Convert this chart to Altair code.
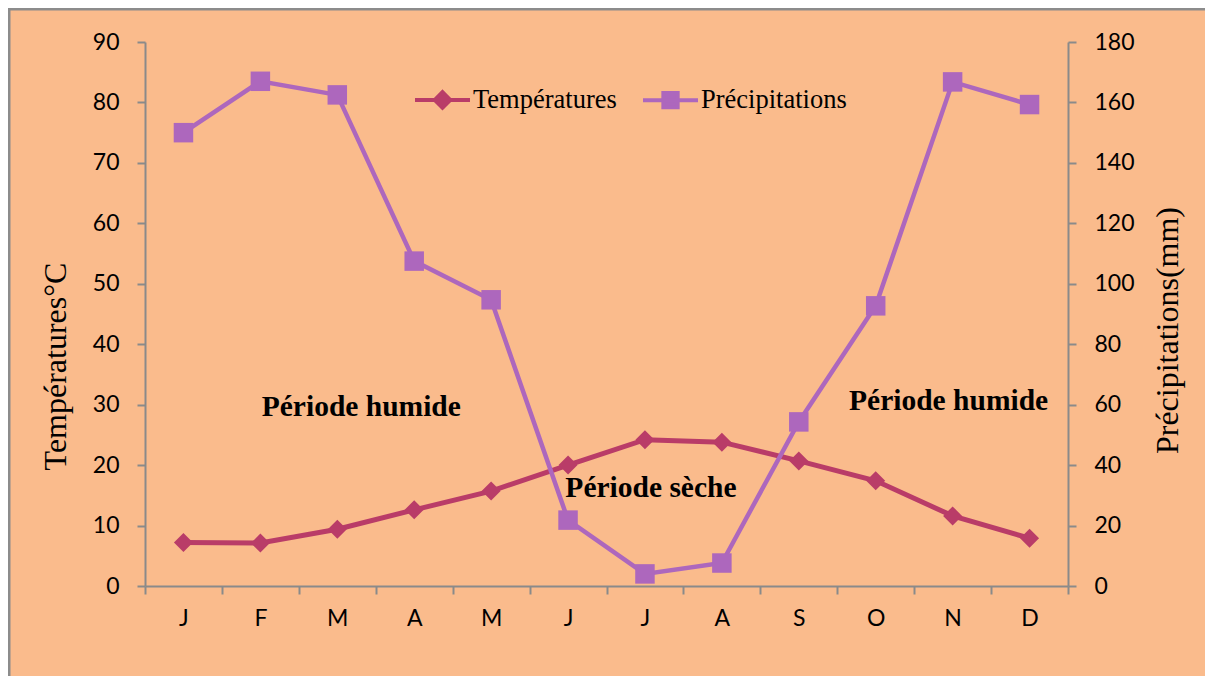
import altair as alt
import pandas as pd

months = ["J", "F", "M", "A", "M", "J", "J", "A", "S", "O", "N", "D"]
temperatures = [7.2, 7.1, 9.4, 12.6, 15.7, 20.0, 24.2, 23.8, 20.7, 17.4, 11.6, 7.9]
precipitations = [150.0, 167.0, 162.5, 107.5, 94.7, 21.8, 4.0, 7.6, 54.3, 92.7, 166.8, 159.3]
series_names = ["Températures", "Précipitations"]
temp_ticks = list(range(0, 91, 10))
precip_ticks = list(range(0, 181, 20))
annotation_labels = ["Période humide", "Période sèche", "Période humide"]
annotation_months = [2, 6, 10]
annotation_temps = [29.6, 16.2, 30.6]

temp_color = "#B93C68"
precip_color = "#AD67BD"
bg = "#FABB8C"
gray = "#8A8A8A"

W, H = 923, 544
PL, PT, PR, PB = 137, 34, 137, 90

df = pd.DataFrame({"idx": list(range(len(months))), "temp": temperatures, "precip": precipitations})
ann_df = pd.DataFrame({"idx": annotation_months, "temp": annotation_temps, "label": annotation_labels})
legend_df = pd.DataFrame({"series": series_names})
one = pd.DataFrame({"k": [0]})

label_expr = "[" + ",".join("'%s'" % m for m in months) + "][datum.value]"

x_enc = alt.X(
    "idx:O",
    scale=alt.Scale(type="band", paddingInner=0, paddingOuter=0),
    axis=alt.Axis(
        title=None, labelExpr=label_expr, tickBand="extent", labelAngle=0,
        labelFont="Lato", labelFontSize=23, labelColor="black", labelPadding=13,
        domainColor=gray, domainWidth=2, tickColor=gray, tickWidth=2, tickSize=8,
        grid=False,
    ),
)

y_left = alt.Y(
    "temp:Q",
    scale=alt.Scale(domain=[0, 90], nice=False, zero=True),
    axis=alt.Axis(
        title="Températures°C", orient="left", values=temp_ticks,
        labelFont="Lato", labelFontSize=23, labelColor="black", labelPadding=18,
        domainColor=gray, domainWidth=2, tickColor=gray, tickWidth=2, tickSize=8,
        titleFont="Liberation Serif", titleFontSize=32, titleFontWeight="normal",
        titleColor="black", titlePadding=20, titleY=324, grid=False,
    ),
)

y_right = alt.Y(
    "precip:Q",
    scale=alt.Scale(domain=[0, 180], nice=False, zero=True),
    axis=alt.Axis(
        title="Précipitations(mm)", orient="right", values=precip_ticks,
        labelFont="Lato", labelFontSize=23, labelColor="black", labelPadding=18,
        domainColor=gray, domainWidth=2, tickColor=gray, tickWidth=2, tickSize=8,
        titleFont="Liberation Serif", titleFontSize=32, titleFontWeight="normal",
        titleColor="black", titlePadding=18, titleAngle=270, titleBaseline="top",
        titleY=288, grid=False,
    ),
)

base = alt.Chart(df)

temp_line = base.mark_line(color=temp_color, strokeWidth=5).encode(x=x_enc, y=y_left)
temp_pts = base.mark_point(shape="diamond", filled=True, size=361, color=temp_color, opacity=1).encode(x=x_enc, y=y_left)

precip_line = base.mark_line(color=precip_color, strokeWidth=4.5).encode(x=x_enc, y=y_right)
precip_pts = base.mark_point(shape="square", filled=True, size=380, color=precip_color, opacity=1).encode(x=x_enc, y=y_right)

dxs = [24, 6, -4]
texts = []
for i in range(len(annotation_labels)):
    texts.append(
        alt.Chart(ann_df.iloc[[i]]).mark_text(
            font="Liberation Serif", fontSize=29.5, fontWeight="bold", color="black", dx=dxs[i]
        ).encode(x=x_enc, y=y_left, text="label:N")
    )

diamond_path = "M-1,0H1M0,-0.28L0.28,0L0,0.28L-0.28,0Z"
square_path = "M-1,0H1M-0.26,-0.26H0.26V0.26H-0.26Z"

leg = alt.Legend(
    title=None, orient="none", legendX=268, legendY=28, direction="horizontal",
    symbolSize=3025, symbolStrokeWidth=4, symbolOpacity=1,
    labelFont="Liberation Serif", labelFontSize=26.5, labelColor="black",
    labelOffset=1, columnPadding=18, padding=0, labelLimit=400,
)
legend_layer = alt.Chart(legend_df).mark_point(filled=True, opacity=1).encode(
    shape=alt.Shape("series:N", scale=alt.Scale(domain=series_names, range=[diamond_path, square_path]), legend=leg, sort=series_names),
    fill=alt.Fill("series:N", scale=alt.Scale(domain=series_names, range=[temp_color, precip_color]), legend=leg, sort=series_names),
    stroke=alt.Stroke("series:N", scale=alt.Scale(domain=series_names, range=[temp_color, precip_color]), legend=leg, sort=series_names),
).transform_filter("false")

border_v = alt.Chart(one).mark_rule(color="#8C8C8C", strokeWidth=3).encode(
    x=alt.value(-PL + 1), y=alt.value(-PT), y2=alt.value(H + PB)
)
border_h = alt.Chart(one).mark_rule(color="#8C8C8C", strokeWidth=3).encode(
    x=alt.value(-PL), x2=alt.value(W + PR), y=alt.value(-PT + 1)
)

left_group = alt.layer(border_v, border_h, temp_line, temp_pts, *texts, legend_layer)
right_group = alt.layer(precip_line, precip_pts)

chart = (
    alt.layer(left_group, right_group)
    .resolve_scale(y="independent")
    .properties(
        width=W, height=H, autosize="none",
        padding={"left": PL, "top": PT, "right": PR, "bottom": PB},
        background=bg,
    )
    .configure_view(stroke=None)
)

chart.save("out.html", embed_options={"renderer": "svg", "actions": False})
